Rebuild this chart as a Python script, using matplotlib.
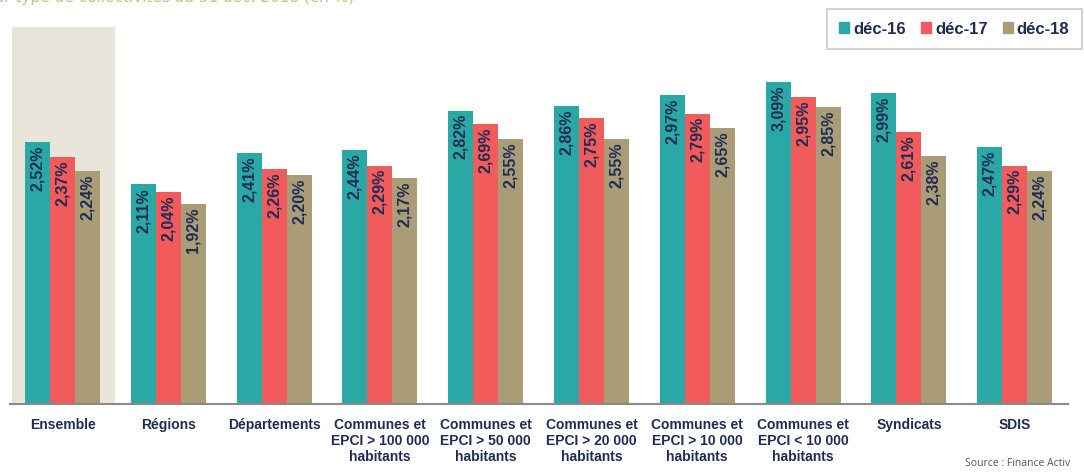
import numpy as np
import matplotlib.pyplot as plt
from matplotlib.patches import Patch, Rectangle

categories = ['Ensemble', 'Régions', 'Départements',
              'Communes et\nEPCI > 100 000\nhabitants',
              'Communes et\nEPCI > 50 000\nhabitants',
              'Communes et\nEPCI > 20 000\nhabitants',
              'Communes et\nEPCI > 10 000\nhabitants',
              'Communes et\nEPCI < 10 000\nhabitants',
              'Syndicats', 'SDIS']
dec16 = [2.52, 2.11, 2.41, 2.44, 2.82, 2.86, 2.97, 3.09, 2.99, 2.47]
dec17 = [2.37, 2.04, 2.26, 2.29, 2.69, 2.75, 2.79, 2.95, 2.61, 2.29]
dec18 = [2.24, 1.92, 2.20, 2.17, 2.55, 2.55, 2.65, 2.85, 2.38, 2.24]
series_names = ['déc-16', 'déc-17', 'déc-18']

colors = ['#2aa8a5', '#f15b5c', '#a99c76']
navy = '#1f2d55'

fig = plt.figure(figsize=(10.84, 4.72), dpi=100)
ax = fig.add_axes([9.6 / 1084, 68 / 472, 1058 / 1084, 384 / 472])

x = np.arange(len(categories))
w = 0.236

# highlight for "Ensemble"
ax.add_patch(Rectangle((-0.48, 0), 0.98, 3.62, color='#eae5da', zorder=0, lw=0))

for i, (vals, c) in enumerate(zip([dec16, dec17, dec18], colors)):
    pos = x + (i - 1) * w
    ax.bar(pos, vals, width=w, color=c, zorder=2, label=series_names[i])
    for p, v in zip(pos, vals):
        ax.annotate(f'{v:.2f}%'.replace('.', ','), (p, v), xytext=(0, -2.5),
                    textcoords='offset points', rotation=90, ha='center', va='top',
                    fontsize=11.5, fontweight='bold', color=navy,
                    family='Liberation Sans', zorder=3)

ax.set_xlim(-0.5, 9.5)
ax.set_ylim(0, 3.69)
for s in ['top', 'right', 'left']:
    ax.spines[s].set_visible(False)
ax.spines['bottom'].set_color('#8a8a8a')
ax.spines['bottom'].set_linewidth(1.5)
ax.set_yticks([])
ax.set_xticks(x)
ax.set_xticklabels(categories, fontsize=10, fontweight='bold', color=navy,
                   family='Liberation Sans', linespacing=1.2)
ax.tick_params(axis='x', length=0, pad=10)

handles = [Patch(color=c) for c in colors]
leg = fig.legend(handles, series_names, ncol=3, loc='upper right',
                 bbox_to_anchor=(1082 / 1084, 1 - 9 / 472), borderaxespad=0,
                 frameon=True, fancybox=False,
                 handlelength=0.6, handleheight=0.6, handletextpad=0.25,
                 columnspacing=0.9, borderpad=0.75,
                 prop={'family': 'Liberation Sans', 'weight': 'bold', 'size': 12})
leg.get_frame().set_edgecolor('#c8c8c8')
leg.get_frame().set_linewidth(1.5)
for t in leg.get_texts():
    t.set_color(navy)

# title, partly cut off at the top as in the source image
fig.text(-15 / 1084, 1 + 3 / 472, 'par type de collectivités au 31 déc. 2018 (en %)',
         fontsize=11, color='#d6bd82', ha='left', va='center')
fig.text(965 / 1084, 9 / 472, 'Source : Finance Activ', fontsize=7.5,
         color='#555555', ha='left', va='center', family='Open Sans')

fig.savefig('out.png', dpi=100)
